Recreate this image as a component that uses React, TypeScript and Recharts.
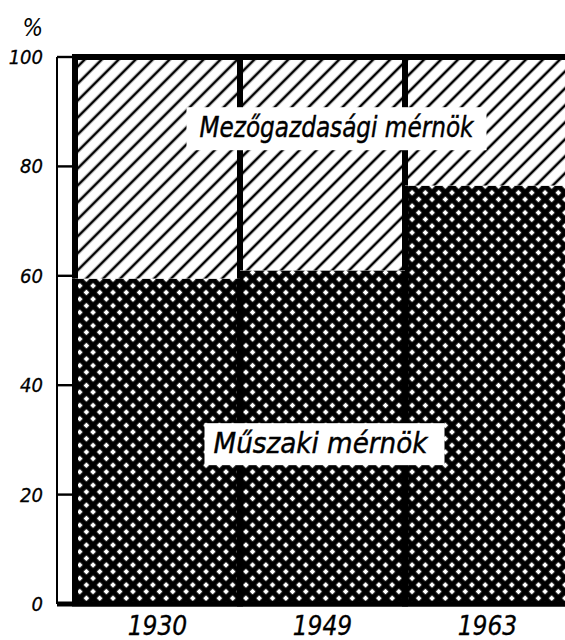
import React from 'react';
import { BarChart, Bar, XAxis, YAxis, LabelList } from 'recharts';

const years = ['1930', '1949', '1963'];
const muszakiMernok = [59.5, 61, 76.5];
const mezogazdasagiMernok = [40.5, 39, 23.5];
const yTicks = [0, 20, 40, 60, 80, 100];
const muszakiLabel = 'Műszaki mérnök';
const mezoLabel = 'Mezőgazdasági mérnök';

const data = years.map((y, i) => ({
  year: y,
  muszaki: muszakiMernok[i],
  mezo: mezogazdasagiMernok[i],
}));

const FONT = "'DejaVu Sans Condensed', 'DejaVu Sans', sans-serif";

const BottomShape = (props: any) => {
  const { x, y, width, height } = props;
  return (
    <g>
      <rect x={x} y={y} width={width} height={height} fill="url(#crossHatch)" />
      <line x1={x} x2={x} y1={y} y2={y + height} stroke="#000" strokeWidth={6} />
      <line x1={x + width} x2={x + width} y1={y} y2={y + height} stroke="#000" strokeWidth={6} />
      <line x1={x - 3} x2={x + width + 3} y1={y + height} y2={y + height} stroke="#000" strokeWidth={5} />
    </g>
  );
};

const TopShape = (props: any) => {
  const { x, y, width, height } = props;
  return (
    <g>
      <rect x={x} y={y} width={width} height={height} fill="#fff" />
      <rect x={x} y={y} width={width} height={height} fill="url(#diagHatch)" />
      <line x1={x} x2={x} y1={y} y2={y + height} stroke="#000" strokeWidth={6} />
      <line x1={x + width} x2={x + width} y1={y} y2={y + height} stroke="#000" strokeWidth={6} />
      <line x1={x - 3} x2={x + width + 3} y1={y} y2={y} stroke="#000" strokeWidth={6} />
    </g>
  );
};

const MezoLabelContent = (props: any) => {
  const { viewBox, index } = props;
  if (index !== 1 || !viewBox) return null;
  const { x, y, width, height } = viewBox;
  const cx = x + width / 2 + 14;
  const base = y + height * 0.376;
  return (
    <g>
      <rect x={cx - 150} y={base - 30} width={300} height={43} fill="#fff" />
      <text
        x={cx}
        y={base}
        textAnchor="middle"
        fontFamily={FONT}
        fontStyle="italic"
        fontSize={28}
        fill="#000"
        stroke="#000"
        strokeWidth={0.4}
        textLength={274}
        lengthAdjust="spacingAndGlyphs"
      >
        {mezoLabel}
      </text>
    </g>
  );
};

const MuszakiLabelContent = (props: any) => {
  const { viewBox, index } = props;
  if (index !== 1 || !viewBox) return null;
  const { x, y, width, height } = viewBox;
  const cx = x + width / 2 - 2;
  const base = y + height * 0.548;
  return (
    <g>
      <rect x={cx - 116} y={base - 30} width={240} height={42} fill="#fff" />
      <text
        x={cx}
        y={base}
        textAnchor="middle"
        fontFamily={FONT}
        fontStyle="italic"
        fontSize={28}
        fill="#000"
        stroke="#000"
        strokeWidth={0.4}
        textLength={214}
        lengthAdjust="spacingAndGlyphs"
      >
        {muszakiLabel}
      </text>
    </g>
  );
};

const YTick = (props: any) => {
  const tx = Number(props.x);
  const ty = Number(props.y);
  const { payload } = props;
  return (
    <g>
      <rect x={tx + 14} y={ty - 1.2} width={17} height={2.4} fill="#000" />
      <text
        x={tx}
        y={ty}
        dy="0.35em"
        textAnchor="end"
        fontFamily={FONT}
        fontStyle="italic"
        fontSize={20}
        fill="#000"
        stroke="#000"
        strokeWidth={0.3}
      >
        {payload.value}
      </text>
    </g>
  );
};

const XTick = (props: any) => {
  const { x, y, payload } = props;
  return (
    <text
      x={x}
      y={Number(y) + 31}
      textAnchor="middle"
      fontFamily={FONT}
      fontStyle="italic"
      fontSize={26}
      fill="#000"
      stroke="#000"
      strokeWidth={0.3}
    >
      {payload.value}
    </text>
  );
};

const PercentLabel = (props: any) => {
  const { viewBox } = props;
  if (!viewBox) return null;
  const { x, y, width } = viewBox;
  return (
    <text
      x={x + width - 14}
      y={y - 21}
      textAnchor="end"
      fontFamily={FONT}
      fontStyle="italic"
      fontSize={24}
      fill="#000"
    >
      %
    </text>
  );
};

export default function App() {
  return (
    <div
      style={{
        position: 'absolute',
        left: 0,
        top: 0,
        width: 565,
        height: 640,
        overflow: 'hidden',
        background: '#fff',
      }}
    >
      <svg width={0} height={0} style={{ position: 'absolute' }}>
        <defs>
          <pattern
            id="diagHatch"
            patternUnits="userSpaceOnUse"
            width={12}
            height={12}
            patternTransform="rotate(45)"
          >
            <rect x={0} y={0} width={12} height={12} fill="#fff" />
            <line x1={6} x2={6} y1={0} y2={12} stroke="#000" strokeWidth={2.6} />
          </pattern>
          <pattern
            id="crossHatch"
            patternUnits="userSpaceOnUse"
            width={9.4}
            height={9.4}
            patternTransform="rotate(45)"
          >
            <rect x={0} y={0} width={9.4} height={9.4} fill="#000" />
            <rect x={2.6} y={2.6} width={4.2} height={4.2} fill="#fff" />
          </pattern>
        </defs>
      </svg>
      <BarChart
        width={570}
        height={640}
        data={data}
        margin={{ top: 57, right: 0, bottom: 0, left: 0 }}
        barCategoryGap={0}
        barGap={0}
      >
        <XAxis
          dataKey="year"
          height={36}
          padding={{ left: 18, right: 0 }}
          axisLine={{ stroke: '#000', strokeWidth: 5 }}
          tickLine={false}
          tickSize={0}
          tickMargin={0}
          tick={<XTick />}
          interval={0}
        />
        <YAxis
          width={57}
          domain={[0, 100]}
          ticks={yTicks}
          type="number"
          axisLine={{ stroke: '#000', strokeWidth: 2 }}
          tickLine={false}
          tickSize={0}
          tickMargin={14}
          tick={<YTick />}
          interval={0}
          label={<PercentLabel />}
        />
        <Bar
          dataKey="muszaki"
          stackId="a"
          isAnimationActive={false}
          shape={<BottomShape />}
        >
          <LabelList dataKey="muszaki" content={<MuszakiLabelContent />} />
        </Bar>
        <Bar
          dataKey="mezo"
          stackId="a"
          isAnimationActive={false}
          shape={<TopShape />}
        >
          <LabelList dataKey="mezo" content={<MezoLabelContent />} />
        </Bar>
      </BarChart>
    </div>
  );
}
